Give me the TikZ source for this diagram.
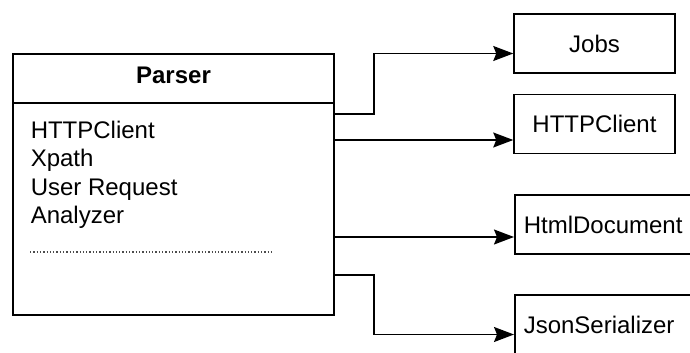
\documentclass[tikz,border=0pt]{standalone}
\usepackage{fontspec}
\setmainfont{Liberation Sans}
\usetikzlibrary{calc,arrows.meta}

\begin{document}
\begin{tikzpicture}[x=1pt, y=-1pt, line width=1.5pt,
  every node/.style={font=\fontsize{24}{28}\selectfont},
  box/.style={rectangle, draw=black, minimum width=161pt, minimum height=59pt, inner sep=0pt},
  wide/.style={rectangle, draw=black, minimum height=59pt, text width=170pt, inner sep=9pt, anchor=west, align=left},
  conn/.style={draw=black, -{Stealth[length=20pt, width=15pt, inset=3pt]}}]

\useasboundingbox (0,0) rectangle (690,353);
\clip (0,0) rectangle (690,353);

% Parser class
\node[draw=black, minimum width=321pt, minimum height=49pt, inner sep=0pt, outer sep=0pt] (head) at (173.5,78.5) {};
\node[anchor=base, inner sep=0pt, font=\bfseries\fontsize{24}{28}\selectfont] (title) at (173.5,83) {Parser};
\node[draw=black, minimum width=321pt, minimum height=212pt, inner sep=0pt, outer sep=0pt, anchor=north] (body) at (head.south) {};

% Members
\foreach \name [count=\i] in {HTTPClient, Xpath, User Request, Analyzer}
	\node[anchor=base west, inner sep=0pt] (m\i) at (30,109.5+28.6*\i) {\name};
\draw[black!70, dotted, line width=1.3pt] (30,252) -- (274,252);

% Dependencies
\node[box] (jobs) at (594.5,43.5) {Jobs};
\node[box] (http) at (594.5,124) {HTTPClient};
\node[wide] (html) at (514,224.5) {HtmlDocument};
\node[wide] (json) at (514,324.5) {JsonSerializer};

% Connections from the parser
\coordinate (o1) at ($(body.north east)+(0,11)$);
\coordinate (o2) at ($(body.north east)+(0,37)$);
\coordinate (o3) at ($(body.north east)+(0,134)$);
\coordinate (o4) at ($(body.north east)+(0,172)$);
\draw[conn] (o1) -- ++(40,0) |- ([yshift=-10pt]jobs.west);
\draw[conn] (o2) -- (o2 -| http.west);
\draw[conn] (o3) -- (o3 -| html.west);
\draw[conn] (o4) -- ++(40,0) |- ([yshift=-10pt]json.west);
\end{tikzpicture}
\end{document}
